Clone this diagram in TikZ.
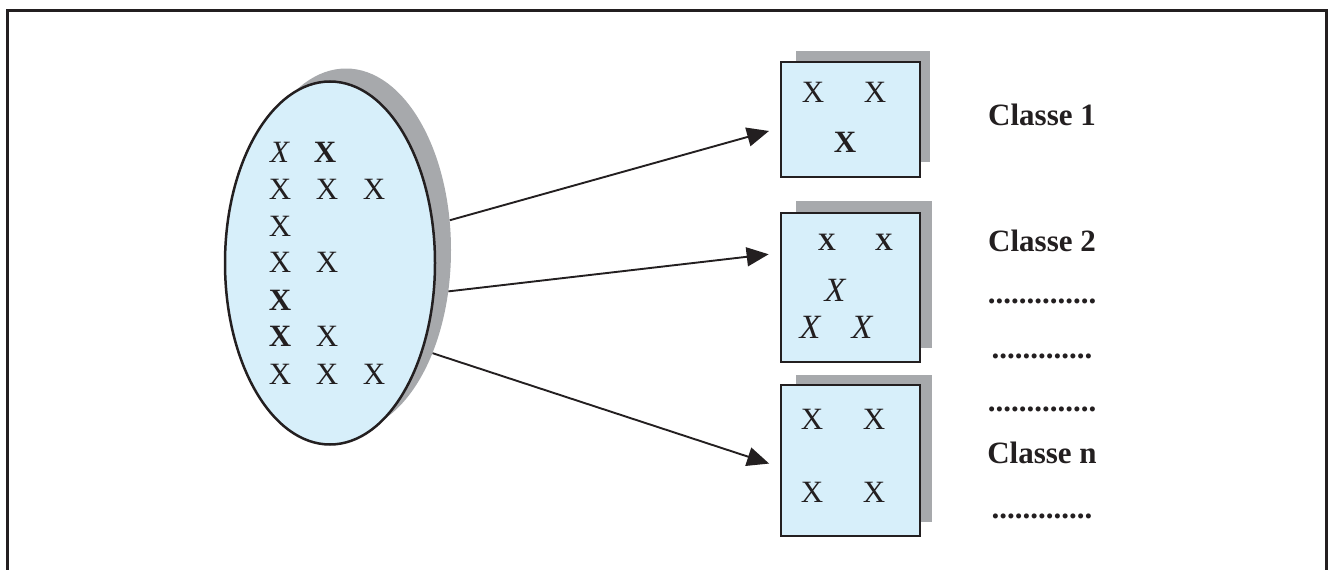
\documentclass[tikz,border=0pt]{standalone}
\usepackage{fontspec}
\setmainfont{Liberation Serif}
\usetikzlibrary{shapes.geometric,arrows.meta}
\definecolor{fillblue}{HTML}{D7EFFA}
\definecolor{shadowgray}{HTML}{A7A9AC}
\definecolor{ink}{HTML}{231F20}
\tikzset{
  mark x/.style={inner sep=0pt, anchor=center, font=\fontsize{31}{31}\selectfont, text=ink},
  label text/.style={inner sep=0pt, anchor=base, font=\fontsize{31}{31}\selectfont\bfseries, text=ink},
  shadowbox/.style={fill=shadowgray, draw=none, inner sep=0pt},
  classbox/.style={fill=fillblue, draw=ink, line width=2.8pt, inner sep=0pt},
  connector/.style={draw=ink, line width=1.9pt, -{Triangle[length=22pt,width=19pt]}}
}
\begin{document}
\begin{tikzpicture}[x=1pt,y=-1pt]
\useasboundingbox (0,0) rectangle (1331,570);
% frame
\draw[ink, line width=3pt] (7.5,580) -- (7.5,10.5) -- (1326.5,10.5) -- (1326.5,580);
% ellipse with shadow
\node[ellipse, shadowbox, minimum width=210pt, minimum height=363pt] (S) at (346,250) {};
\node[ellipse, fill=fillblue, draw=ink, line width=2.5pt, inner sep=0pt, minimum width=210pt, minimum height=363pt] (E) at (330,263) {};
% X marks in ellipse
\node[mark x] (e11) at (280,152.5) {\textit{X}};
\node[mark x] (e12) at (325,152.5) {\textbf{X}};
\node[mark x] (e21) at (280,189) {X};
\node[mark x] (e22) at (327,189) {X};
\node[mark x] (e23) at (374,189) {X};
\node[mark x] (e31) at (280,226) {X};
\node[mark x] (e41) at (280,262.5) {X};
\node[mark x] (e42) at (327,262.5) {X};
\node[mark x] (e51) at (280,300) {\textbf{X}};
\node[mark x] (e61) at (280,336.5) {\textbf{X}};
\node[mark x] (e62) at (327,336.5) {X};
\node[mark x] (e71) at (280,374) {X};
\node[mark x] (e72) at (327,374) {X};
\node[mark x] (e73) at (374,374) {X};
% box 1
\node[shadowbox, minimum width=134pt, minimum height=111pt] (S1) at (863,106.5) {};
\node[classbox, minimum width=139pt, minimum height=115pt] (B1) at (850.5,119.5) {};
\node[mark x] (b11) at (813,92) {X};
\node[mark x] (b12) at (875,92) {X};
\node[mark x] (b13) at (845,142) {\textbf{X}};
% box 2
\node[shadowbox, minimum width=136pt, minimum height=147pt] (S2) at (864,274.5) {};
\node[classbox, minimum width=139pt, minimum height=149pt] (B2) at (850.5,287.5) {};
\node[mark x, font=\fontsize{25}{25}\selectfont\bfseries] (b21) at (827,242) {X};
\node[mark x, font=\fontsize{25}{25}\selectfont\bfseries] (b22) at (884,242) {X};
\node[mark x, font=\fontsize{34}{34}\selectfont\itshape] (b23) at (835,290) {X};
\node[mark x, font=\fontsize{34}{34}\selectfont\itshape] (b24) at (810,327) {X};
\node[mark x, font=\fontsize{34}{34}\selectfont\itshape] (b25) at (862,327) {X};
% box 3
\node[shadowbox, minimum width=136pt, minimum height=147pt] (S3) at (864,448.5) {};
\node[classbox, minimum width=139pt, minimum height=151pt] (B3) at (850.5,460.5) {};
\node[mark x] (b31) at (812,419) {X};
\node[mark x] (b32) at (874,419) {X};
\node[mark x] (b33) at (812,492) {X};
\node[mark x] (b34) at (874,492) {X};
% connectors
\draw[connector, shorten >=11pt] (S.16) -- ([yshift=-8.5pt]B1.west);
\draw[connector, shorten >=11pt] (S.-22) -- ([yshift=34.5pt]B2.west);
\draw[connector, shorten >=11pt] (S.-50) -- ([yshift=-6.5pt]B3.west);
% labels
\node[label text] (c1) at (1042,125) {Classe 1};
\node[label text] (c2) at (1042,251) {Classe 2};
\node[label text] (d1) at (1042,303) {..............};
\node[label text] (d2) at (1042,358) {.............};
\node[label text] (d3) at (1042,411) {..............};
\node[label text] (cn) at (1042,463) {Classe n};
\node[label text] (d4) at (1042,518) {.............};
\end{tikzpicture}
\end{document}
